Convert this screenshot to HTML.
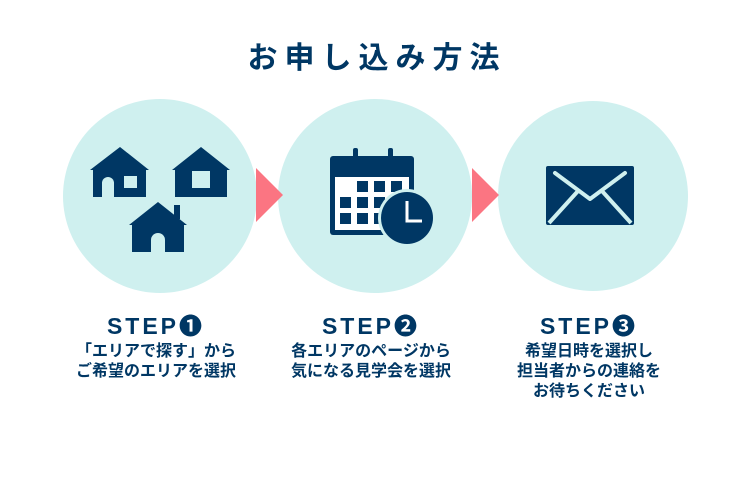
<!DOCTYPE html>
<html><head><meta charset="utf-8"><style>
body{margin:0;width:750px;height:477px;background:#fff;overflow:hidden;font-family:"Liberation Sans","Noto Sans CJK JP",sans-serif;}
svg{position:absolute;left:0;top:0}
.t{position:absolute;width:240px;text-align:center;color:#003764;font-weight:bold;}
.st{font-size:23px;top:307px;letter-spacing:3px;}
.tx{font-size:16px;line-height:20px;top:342px;}
</style></head><body>
<svg width="750" height="477" viewBox="0 0 750 477">
<text x="377" y="68" text-anchor="middle" font-size="30" font-weight="bold" fill="#003764" letter-spacing="7" font-family="Liberation Sans, Noto Sans CJK JP, sans-serif">お申し込み方法</text>
<circle cx="160" cy="196" r="97" fill="#cff0ef"/>
<circle cx="375" cy="196" r="97" fill="#cff0ef"/>
<circle cx="593" cy="196" r="95" fill="#cff0ef"/>
<polygon points="256,168 283,195 256,222" fill="#fb7582"/>
<polygon points="472,168 499,195 472,222" fill="#fb7582"/>
<g fill="#003764">
<polygon points="90,170 120,147 149,170 146,170 146,197 93,197 93,170"/>
<rect x="124" y="176" width="13" height="12" fill="#cff0ef"/>
<path d="M102,197 v-14 a6,6 0 0 1 12,0 v14z" fill="#cff0ef"/>
<polygon points="172,170 201,147 230,170 227,170 227,197 175,197 175,170"/>
<rect x="192" y="171" width="18" height="17" fill="#cff0ef"/>
<polygon points="129,225 158,202 187,225 184,225 184,252 132,252 132,225"/>
<rect x="174" y="205" width="6" height="14"/>
<path d="M151,252 v-12 a7,7 0 0 1 14,0 v12z" fill="#cff0ef"/>
<rect x="330" y="156" width="84" height="79" rx="3"/>
<rect x="353" y="148" width="5" height="12" rx="2"/>
<rect x="388" y="148" width="5" height="12" rx="2"/>
<rect x="335" y="177" width="74" height="53" fill="#fff"/>
<g>
<rect x="357" y="181" width="11" height="11"/><rect x="374" y="181" width="11" height="11"/><rect x="391" y="181" width="11" height="11"/>
<rect x="340" y="197" width="11" height="11"/><rect x="357" y="197" width="11" height="11"/><rect x="374" y="197" width="11" height="11"/>
<rect x="340" y="213" width="11" height="11"/><rect x="357" y="213" width="11" height="11"/><rect x="374" y="213" width="11" height="11"/>
</g>
<circle cx="407" cy="218" r="29" fill="#cff0ef"/>
<circle cx="407" cy="218" r="26"/>
<polyline points="407,201 407,221 422,221" fill="none" stroke="#fff" stroke-width="3"/>
<rect x="546" y="166" width="88" height="59" rx="2"/>
<polyline points="555,173 590,199 625,173" fill="none" stroke="#cff0ef" stroke-width="4" stroke-linecap="round" stroke-linejoin="round"/>
<line x1="578" y1="191" x2="549" y2="223" stroke="#cff0ef" stroke-width="4"/>
<line x1="602" y1="191" x2="631" y2="223" stroke="#cff0ef" stroke-width="4"/>
</g>
</svg>
<div class="t st" style="left:36px">STEP❶</div>
<div class="t st" style="left:251px">STEP❷</div>
<div class="t st" style="left:469px">STEP❸</div>
<div class="t tx" style="left:36px">「エリアで探す」から<br>ご希望のエリアを選択</div>
<div class="t tx" style="left:251px">各エリアのページから<br>気になる見学会を選択</div>
<div class="t tx" style="left:469px">希望日時を選択し<br>担当者からの連絡を<br>お待ちください</div>
</body></html>
